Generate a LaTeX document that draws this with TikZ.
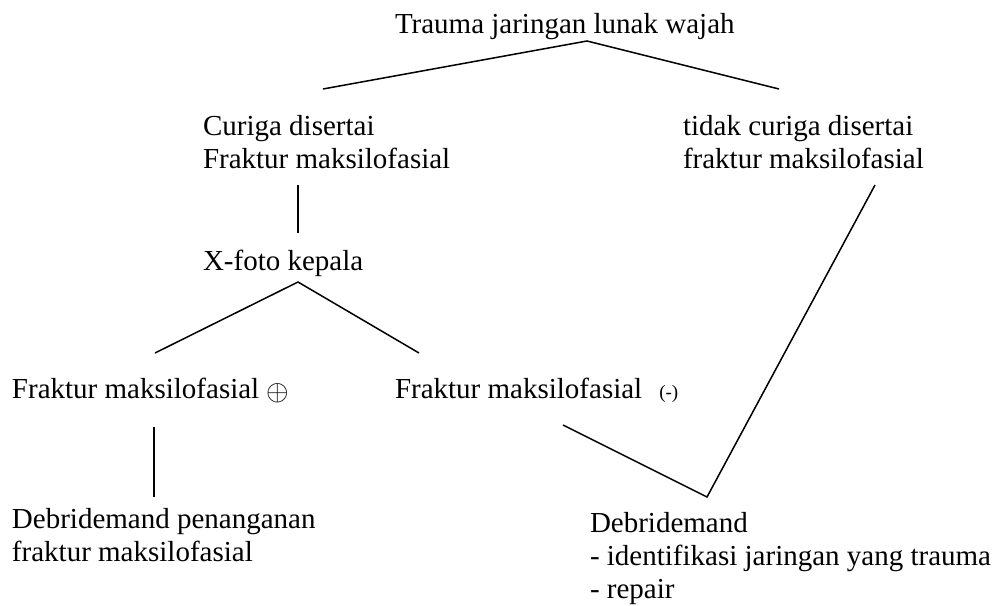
\documentclass[tikz,border=0pt]{standalone}
\usepackage{fontspec}
\usepackage{graphicx}
\setmainfont{Liberation Serif}
\begin{document}
\begin{tikzpicture}[x=1pt,y=-1pt,
  txt/.style={anchor=base west, inner sep=0pt, outer sep=0pt, font=\fontsize{29}{33}\selectfont},
  conn/.style={line width=1.5pt, line join=miter}]
\useasboundingbox[fill=white] (0,0) rectangle (995,605);

% texts
\node[txt] (trauma) at (395,33) {Trauma jaringan lunak wajah};
\node[txt] (curiga) at (203,135) {\begin{tabular}[t]{@{}l@{}}Curiga disertai\\Fraktur maksilofasial\end{tabular}};
\node[txt] (tidak) at (683,135) {\begin{tabular}[t]{@{}l@{}}tidak curiga disertai\\fraktur maksilofasial\end{tabular}};
\node[txt] (xfoto) at (203,270) {X-foto kepala};
\node[txt] (fplus) at (12,398) {Fraktur maksilofasial \raisebox{-2.5pt}{\scalebox{2.9}{\normalsize$\oplus$}}};
\node[txt] (fminus) at (395,398) {Fraktur maksilofasial\hspace{17pt}{\fontsize{19}{22}\selectfont (-)}};
\node[txt] (debl) at (12,528) {\begin{tabular}[t]{@{}l@{}}Debridemand penanganan\\fraktur maksilofasial\end{tabular}};
\node[txt] (debr) at (590,532) {\begin{tabular}[t]{@{}l@{}}Debridemand\\- identifikasi jaringan yang trauma\\- repair\end{tabular}};

% connector points
\coordinate (tA) at (587,41);
\coordinate (tL) at (323,89);
\coordinate (tR) at (779,89);
\coordinate (cT) at (298,185);
\coordinate (cB) at (298,233);
\coordinate (xA) at (298,282);
\coordinate (xL) at (155,353);
\coordinate (xR) at (419,353);
\coordinate (pT) at (154,427);
\coordinate (pB) at (154,497);
\coordinate (mT) at (563,425);
\coordinate (V) at (707,497);
\coordinate (rT) at (875,185);

\draw[conn] (tL) -- (tA) -- (tR);
\draw[conn] (cT) -- (cB);
\draw[conn] (xL) -- (xA) -- (xR);
\draw[conn] (pT) -- (pB);
\draw[conn] (mT) -- (V) -- (rT);
\end{tikzpicture}
\end{document}
